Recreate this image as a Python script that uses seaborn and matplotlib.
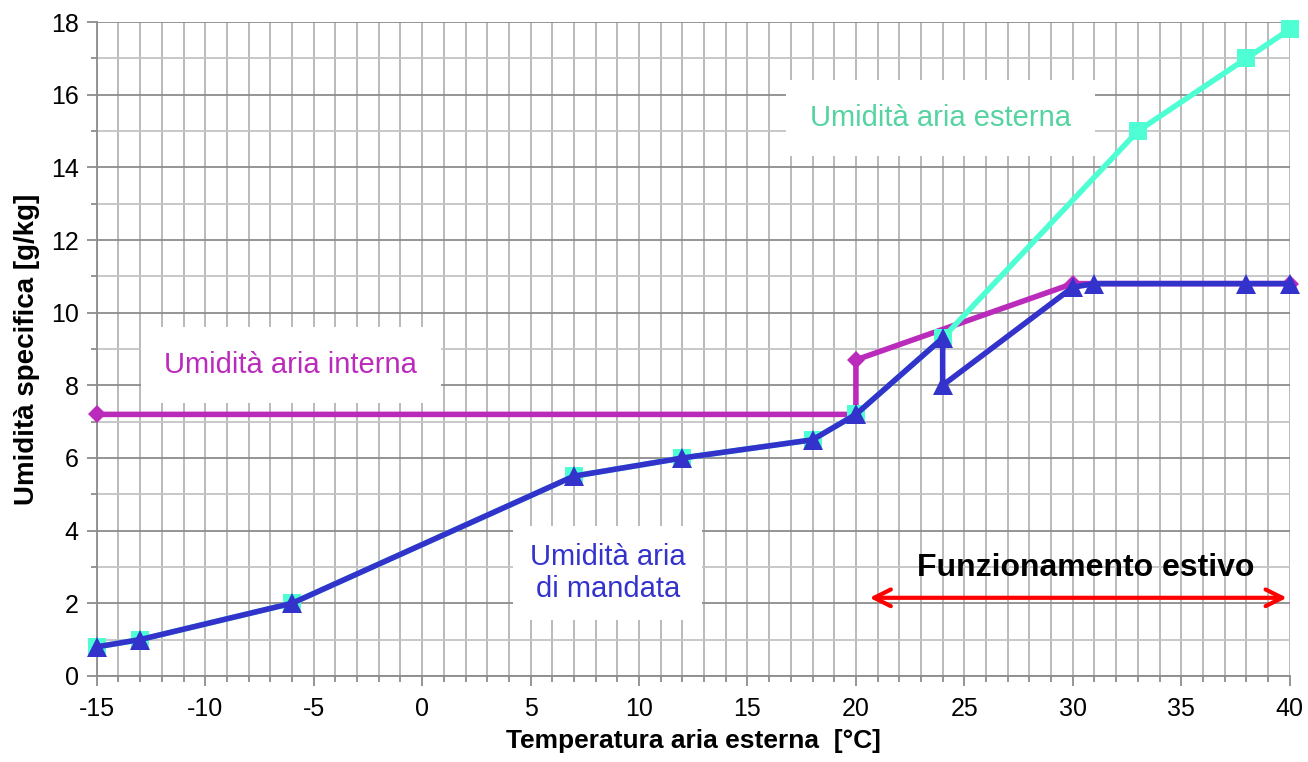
import matplotlib
matplotlib.use("Agg")
import matplotlib.pyplot as plt
from matplotlib.ticker import MultipleLocator
import seaborn as sns

OUTPUT_FILE = "out.png"

# Data
t_esterna = [-15, -13, -6, 7, 12, 18, 20, 24, 33, 38, 40]
x_esterna = [0.8, 1.0, 2.0, 5.5, 6.0, 6.5, 7.2, 9.3, 15.0, 17.0, 17.8]

t_interna = [-15, 20, 20, 30, 40]
x_interna = [7.2, 7.2, 8.7, 10.8, 10.8]

t_mandata = [-15, -13, -6, 7, 12, 18, 20, 24, 24, 30, 31, 38, 40]
x_mandata = [0.8, 1.0, 2.0, 5.5, 6.0, 6.5, 7.2, 9.3, 8.0, 10.7, 10.8, 10.8, 10.8]

sns.set_theme(style="white")
plt.rcParams["font.family"] = ["Liberation Sans", "DejaVu Sans"]
plt.rcParams["axes.unicode_minus"] = False

fig = plt.figure(figsize=(13.08, 7.62), dpi=100)
ax = fig.add_axes([0.074, 0.113, 0.912, 0.858])

c_int = "#BB2BBB"
c_est = "#4DFFD2"
c_man = "#3333CC"

sns.lineplot(x=t_interna, y=x_interna, sort=False, estimator=None, color=c_int,
             linewidth=4, marker="D", markersize=9, markeredgewidth=0,
             clip_on=False, ax=ax, zorder=3)
sns.lineplot(x=t_esterna, y=x_esterna, sort=False, estimator=None, color=c_est,
             linewidth=4, marker="s", markersize=13.5, markeredgewidth=0,
             clip_on=False, ax=ax, zorder=4)
sns.lineplot(x=t_mandata, y=x_mandata, sort=False, estimator=None, color=c_man,
             linewidth=4, marker="^", markersize=15, markeredgewidth=0,
             clip_on=False, ax=ax, zorder=5)

ax.set_xlim(-15, 40)
ax.set_ylim(0, 18)
ax.xaxis.set_major_locator(MultipleLocator(5))
ax.xaxis.set_minor_locator(MultipleLocator(1))
ax.yaxis.set_major_locator(MultipleLocator(2))
ax.yaxis.set_minor_locator(MultipleLocator(1))

# grid: darker lines on the even values, lighter ones in between
ax.grid(True, which="major", axis="y", color="#8c8c8c", linewidth=1.3)
ax.grid(True, which="minor", axis="y", color="#c4c4c4", linewidth=1.3)
ax.grid(True, which="both", axis="x", color="#b4b4b4", linewidth=1.3)
ax.set_axisbelow(True)

for s in ["top", "right"]:
    ax.spines[s].set_visible(False)
for s in ["left", "bottom"]:
    ax.spines[s].set_color("#8c8c8c")
    ax.spines[s].set_linewidth(1.3)

ax.tick_params(axis="both", which="major", direction="out", length=7, width=1.3,
               color="#8c8c8c", labelsize=18, labelcolor="black", bottom=True, left=True)
ax.tick_params(axis="both", which="minor", direction="out", length=4, width=1.3,
               color="#8c8c8c", bottom=True, left=True)
ax.tick_params(axis="x", pad=8)
ax.tick_params(axis="y", pad=6)

ax.set_xlabel("Temperatura aria esterna  [°C]", fontsize=19, fontweight="bold",
              color="black", labelpad=6)
ax.set_ylabel("Umidità specifica [g/kg]", fontsize=20, fontweight="bold",
              color="black", labelpad=8)

box = dict(facecolor="white", edgecolor="none", pad=17)
ax.text(23.9, 15.36, "Umidità aria esterna", color="#55D3A0", fontsize=21,
        ha="center", va="center", bbox=box, zorder=6)
ax.text(-6.06, 8.56, "Umidità aria interna", color=c_int, fontsize=21,
        ha="center", va="center", bbox=box, zorder=6)
ax.text(8.56, 2.84, "Umidità aria\ndi mandata", color=c_man, fontsize=21,
        ha="center", va="center", linespacing=1.2,
        bbox=dict(facecolor="white", edgecolor="none", pad=12), zorder=6)
ax.text(30.6, 2.97, "Funzionamento estivo", color="black", fontsize=23,
        fontweight="bold", ha="center", va="center", zorder=6)

# red double arrow for the summer range
ax.annotate("", xy=(40, 2.15), xytext=(20.5, 2.15),
            arrowprops=dict(arrowstyle="<->", color="red", lw=3,
                            mutation_scale=30), zorder=6)

plt.savefig(OUTPUT_FILE, dpi=100)
plt.close()
